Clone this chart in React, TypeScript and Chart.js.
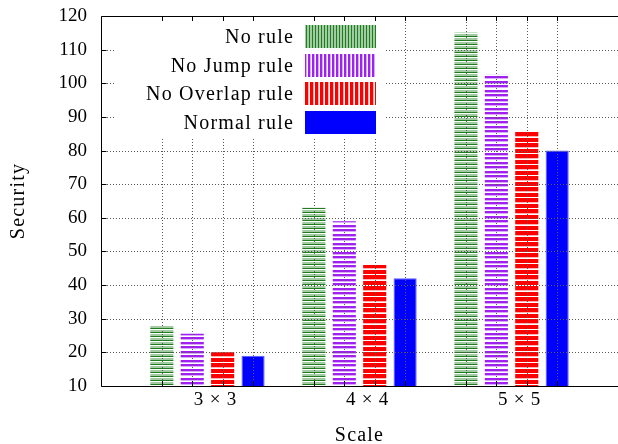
import React, { useEffect, useRef } from "react";
import { Chart, registerables } from "chart.js";

Chart.register(...registerables);

const categories = ["3\u2004×\u20043", "4\u2004×\u20044", "5\u2004×\u20045"];
const seriesNames = ["No rule", "No Jump rule", "No Overlap rule", "Normal rule"];
const noRule = [28, 63, 115];
const noJumpRule = [25.5, 59, 102.5];
const noOverlapRule = [20, 46, 85.6];
const normalRule = [19, 42, 80];
const yMin = 10;
const yMax = 120;
const yStep = 10;
const xAxisTitle = "Scale";
const yAxisTitle = "Security";

const FONT_FAMILY = "'Liberation Serif', 'Times New Roman', serif";
const TICK_SIZE = 19;
const TEXT_SIZE = 20;
const TEXT_SPACING = "1.2px";

const GREEN_D = "#1f7f1f";
const GREEN_L = "#a3cba3";
const PURPLE = "#a020f0";
const PURPLE_L = "#d9aaf9";
const RED = "#ff0000";
const RED_L = "#ffb0b0";
const BLUE = "#0000ff";
const W = "#ffffff";

function stripes(colors: string[], vertical: boolean): CanvasPattern | string {
  const c = document.createElement("canvas");
  const n = colors.length;
  c.width = vertical ? n : 1;
  c.height = vertical ? 1 : n;
  const ctx = c.getContext("2d");
  if (!ctx) return colors[0];
  colors.forEach((col, i) => {
    ctx.fillStyle = col;
    if (vertical) ctx.fillRect(i, 0, 1, 1);
    else ctx.fillRect(0, i, 1, 1);
  });
  return ctx.createPattern(c, "repeat") || colors[0];
}

export default function App() {
  const ref = useRef<HTMLCanvasElement | null>(null);

  useEffect(() => {
    document.body.style.margin = "0";
    const canvas = ref.current;
    if (!canvas) return;

    const barFills = [
      stripes([GREEN_D, W, GREEN_L, GREEN_L], false),
      stripes([PURPLE, PURPLE, PURPLE_L, W, PURPLE, PURPLE, PURPLE_L, W, W], false),
      stripes([RED, RED, RED, RED, RED_L, W, RED, RED, RED, RED, W], false),
      BLUE,
    ];
    const legendFills = [
      stripes([GREEN_D, GREEN_L, GREEN_L], true),
      stripes([PURPLE, PURPLE, PURPLE_L, W], true),
      stripes([RED, RED, RED, RED_L, W], true),
      BLUE,
    ];
    const seriesValues = [noRule, noJumpRule, noOverlapRule, normalRule];

    const tickFont = { family: FONT_FAMILY, size: TICK_SIZE };

    const frontPlugin = {
      id: "frontGrid",
      afterDatasetsDraw(chart: any) {
        const ctx: any = chart.ctx;
        const ca = chart.chartArea;
        const ys = chart.scales.y;
        ctx.save();
        // dotted grid in front of bars
        ctx.strokeStyle = "#5a5a5a";
        ctx.lineWidth = 1;
        ctx.setLineDash([1, 2]);
        ys.ticks.forEach((t: any) => {
          if (t.value <= yMin || t.value >= yMax) return;
          const y = Math.round(ys.getPixelForValue(t.value)) + 0.5;
          ctx.beginPath();
          ctx.moveTo(ca.left, y);
          ctx.lineTo(ca.right, y);
          ctx.stroke();
        });
        const barXs: number[] = [];
        chart.data.datasets.forEach((_: any, di: number) => {
          chart.getDatasetMeta(di).data.forEach((el: any) => barXs.push(el.x));
        });
        barXs.forEach((x) => {
          const px = Math.round(x) + 0.5;
          ctx.beginPath();
          ctx.moveTo(px, ca.top);
          ctx.lineTo(px, ca.bottom);
          ctx.stroke();
        });
        ctx.setLineDash([]);

        // legend box
        const boxL = ca.left + 14;
        const boxT = ca.top + 1;
        const boxR = ca.left + 285;
        const boxB = ca.top + 121;
        ctx.fillStyle = "#ffffff";
        ctx.fillRect(boxL, boxT, boxR - boxL, boxB - boxT);
        ctx.font = `${TEXT_SIZE}px ${FONT_FAMILY}`;
        ctx.letterSpacing = TEXT_SPACING;
        ctx.textAlign = "right";
        ctx.textBaseline = "middle";
        chart.data.datasets.forEach((ds: any, i: number) => {
          const top = Math.round(ca.top + 9 + i * 28.6);
          const sx = ca.left + 204;
          const sw = 71;
          const sh = 23;
          ctx.fillStyle = legendFills[i];
          ctx.fillRect(sx, top, sw, sh);
          ctx.fillStyle = "#000";
          ctx.fillText(ds.label, ca.left + 193, top + sh / 2 + 1);
        });

        // axis titles
        ctx.textAlign = "center";
        ctx.textBaseline = "alphabetic";
        ctx.fillText(xAxisTitle, (ca.left + ca.right) / 2, 441);
        ctx.save();
        ctx.translate(24, (ca.top + ca.bottom) / 2);
        ctx.rotate(-Math.PI / 2);
        ctx.fillText(yAxisTitle, 0, 0);
        ctx.restore();
        ctx.letterSpacing = "0px";

        // border and ticks
        ctx.strokeStyle = "#000";
        ctx.lineWidth = 1;
        ctx.beginPath();
        ctx.rect(Math.round(ca.left) + 0.5, Math.round(ca.top) + 0.5, ca.right - ca.left, Math.round(ca.bottom - ca.top));
        ctx.stroke();
        const L = Math.round(ca.left) + 0.5;
        ys.ticks.forEach((t: any) => {
          const y = Math.round(ys.getPixelForValue(t.value)) + 0.5;
          ctx.beginPath();
          ctx.moveTo(L, y);
          ctx.lineTo(L + 5, y);
          ctx.stroke();
        });
        barXs.forEach((x) => {
          const px = Math.round(x) + 0.5;
          ctx.beginPath();
          ctx.moveTo(px, Math.round(ca.top));
          ctx.lineTo(px, Math.round(ca.top) + 5);
          ctx.moveTo(px, Math.round(ca.bottom));
          ctx.lineTo(px, Math.round(ca.bottom) - 5);
          ctx.stroke();
        });
        ctx.restore();
      },
    };

    const chart = new Chart(canvas, {
      type: "bar",
      data: {
        datasets: seriesNames.map((name, si) => ({
          label: name,
          data: categories.map((_, ci) => ({ x: ci, y: seriesValues[si][ci] })),
          backgroundColor: barFills[si] as any,
          borderWidth: si === 3 ? 1 : 0,
          borderColor: "#5c5cff",
          borderSkipped: "bottom",
          barPercentage: 0.76,
          categoryPercentage: 0.8,
        })),
      },
      options: {
        animation: false,
        responsive: false,
        devicePixelRatio: 1,
        layout: { padding: { top: 16, right: 0, left: 0, bottom: 0 } },
        plugins: {
          legend: { display: false },
          tooltip: { enabled: false },
        },
        scales: {
          x: {
            type: "linear",
            min: -0.7,
            max: 2.7,
            offset: false,
            grid: { display: false, drawTicks: false },
            border: { display: false },
            afterBuildTicks: (s: any) => {
              s.ticks = categories.map((_, i) => ({ value: i + 0.05 }));
            },
            ticks: {
              callback: (_v: any, i: number) => categories[i],
              font: tickFont,
              color: "#000",
              padding: 3,
              maxRotation: 0,
              autoSkip: false,
            },
            title: { display: false, text: xAxisTitle },
            afterFit: (s: any) => {
              s.height = 58;
              s.paddingLeft = 0;
              s.paddingRight = 0;
            },
          },
          y: {
            min: yMin,
            max: yMax,
            grid: { display: false, drawTicks: false },
            border: { display: false },
            ticks: { stepSize: yStep, font: tickFont, color: "#000", padding: 14 },
            title: { display: false, text: yAxisTitle },
            afterFit: (s: any) => {
              s.width = 101;
              s.paddingTop = 0;
              s.paddingBottom = 0;
            },
          },
        },
      } as any,
      plugins: [frontPlugin],
    });

    return () => chart.destroy();
  }, []);

  return (
    <div style={{ position: "fixed", left: 0, top: 0, width: 618, height: 444, background: "#fff" }}>
      <canvas ref={ref} width={618} height={444} style={{ display: "block", width: 618, height: 444 }} />
    </div>
  );
}
